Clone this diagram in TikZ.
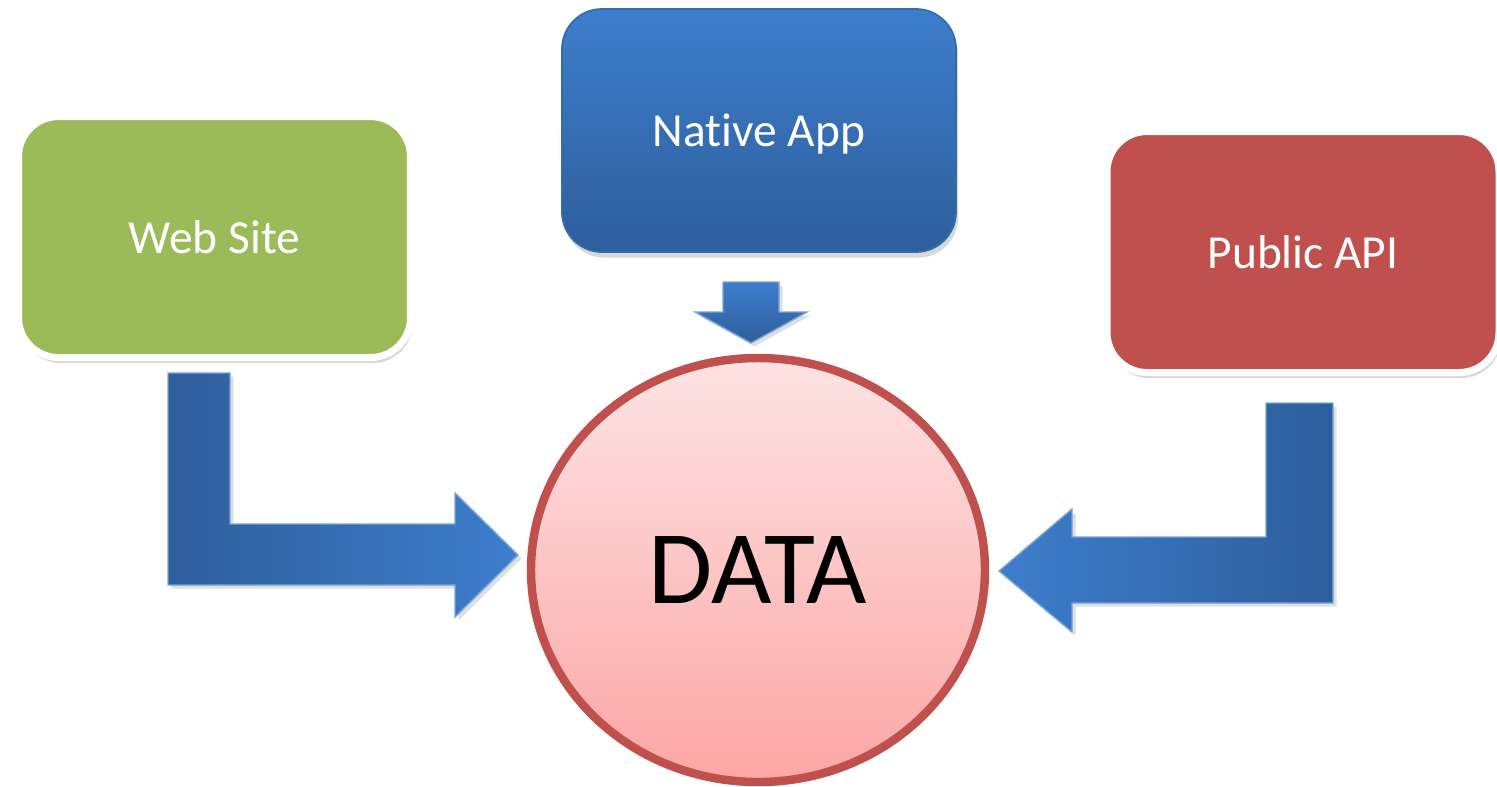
\documentclass[tikz,border=0pt]{standalone}
\usepackage{fontspec}
\setmainfont[Ligatures=NoCommon]{Carlito}
\usetikzlibrary{shapes.geometric,shadows}
\definecolor{webgreen}{HTML}{9BBB59}
\definecolor{apired}{HTML}{C0504D}
\definecolor{blueTop}{HTML}{3D7ECC}
\definecolor{blueBot}{HTML}{2E5E9C}
\definecolor{pinkTop}{HTML}{FDE3E4}
\definecolor{pinkBot}{HTML}{FCA6A5}
\tikzset{
  srcbox/.style={rectangle,rounded corners=0.4cm,draw=white,line width=2pt,minimum width=3.92cm,minimum height=2.41cm,text=white,text depth=0pt,font=\fontsize{13.5}{16}\selectfont,drop shadow={opacity=0.3,shadow xshift=0.6pt,shadow yshift=-1.6pt}},
  blockarrow/.style={draw=blueTop!70!white,line width=0.4pt,drop shadow={opacity=0.25,shadow xshift=1pt,shadow yshift=-1pt}},
}
\begin{document}
\begin{tikzpicture}[x=0.1mm,y=-0.1mm]
    \useasboundingbox(0,0)rectangle(1497,786);
    \node[srcbox,fill=webgreen](web)at(214.5,237){Web Site};%左
    \node[srcbox,top color=blueTop,bottom color=blueBot,draw=blueTop!85!black,line width=0.5pt,minimum width=3.94cm,minimum height=2.43cm](native)at(759,130.5){Native App};%上
    \node[srcbox,fill=apired](api)at(1303,252){Public API};%右
    \node[ellipse,draw=apired,line width=2.4pt,top color=pinkTop,bottom color=pinkBot,minimum width=4.54cm,minimum height=4.24cm,inner sep=0pt,text depth=0pt,font=\fontsize{29.7}{36}\selectfont,drop shadow={opacity=0.2,shadow xshift=0.6pt,shadow yshift=-1.2pt}](data)at(758,570){DATA};%中心
    \draw[blockarrow,left color=blueBot,right color=blueTop](168,373)--(230,373)--(230,524)--(455,524)--(455,493)--(518,555)--(455,617)--(455,585)--(168,585)--cycle;%Web Site→DATA
    \draw[blockarrow,top color=blueTop,bottom color=blueBot](723,282)--(779,282)--(779,312)--(807,312)--(751,343)--(695,312)--(723,312)--cycle;%Native App→DATA
    \draw[blockarrow,left color=blueTop,right color=blueBot](1333,403)--(1266,403)--(1266,537)--(1072,537)--(1072,509)--(999,571)--(1072,632)--(1072,603)--(1333,603)--cycle;%Public API→DATA
\end{tikzpicture}
\end{document}
